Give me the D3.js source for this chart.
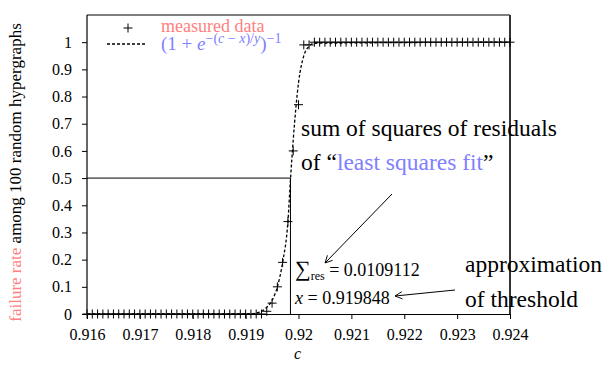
<!DOCTYPE html>
<html>
<head>
<meta charset="utf-8">
<script src="https://cdn.jsdelivr.net/npm/d3@7"></script>
<style>
  body { margin: 0; background: #fff; }
  svg text { font-family: "Liberation Serif", "DejaVu Serif", serif; }
</style>
</head>
<body>
<script>
// Chart size and plot box
const width = 606;
const height = 365;
const margin = { top: 15, right: 96, bottom: 51, left: 87 };
const innerWidth = width - margin.left - margin.right;
const innerHeight = height - margin.top - margin.bottom;

// Measured failure rates (c, rate)
const cValues = [
  0.9160, 0.9161, 0.9162, 0.9163, 0.9164, 0.9165, 0.9166, 0.9167, 0.9168, 0.9169,
  0.9170, 0.9171, 0.9172, 0.9173, 0.9174, 0.9175, 0.9176, 0.9177, 0.9178, 0.9179,
  0.9180, 0.9181, 0.9182, 0.9183, 0.9184, 0.9185, 0.9186, 0.9187, 0.9188, 0.9189,
  0.9190, 0.9191, 0.9192, 0.9193, 0.9194, 0.9195, 0.9196, 0.9197, 0.9198, 0.9199,
  0.9200, 0.9201, 0.9202, 0.9203, 0.9204, 0.9205, 0.9206, 0.9207, 0.9208, 0.9209,
  0.9210, 0.9211, 0.9212, 0.9213, 0.9214, 0.9215, 0.9216, 0.9217, 0.9218, 0.9219,
  0.9220, 0.9221, 0.9222, 0.9223, 0.9224, 0.9225, 0.9226, 0.9227, 0.9228, 0.9229,
  0.9230, 0.9231, 0.9232, 0.9233, 0.9234, 0.9235, 0.9236, 0.9237, 0.9238, 0.9239,
  0.9240
];
const rateValues = [
  0, 0, 0, 0, 0, 0, 0, 0, 0, 0,
  0, 0, 0, 0, 0, 0, 0, 0, 0, 0,
  0, 0, 0, 0, 0, 0, 0, 0, 0, 0,
  0, 0, 0, 0, 0.01, 0.04, 0.10, 0.19, 0.34, 0.60,
  0.77, 0.99, 0.99, 1, 1, 1, 1, 1, 1, 1,
  1, 1, 1, 1, 1, 1, 1, 1, 1, 1,
  1, 1, 1, 1, 1, 1, 1, 1, 1, 1,
  1, 1, 1, 1, 1, 1, 1, 1, 1, 1,
  1
];

// Fitted logistic curve
const fitC = [0.916, 0.9191, 0.9192, 0.9193, 0.9194, 0.9195, 0.9196, 0.9197, 0.9198,
  0.91985, 0.9199, 0.9200, 0.9201, 0.9202, 0.9203, 0.924];
const fitY = [0, 0, 0.004, 0.01, 0.025, 0.05, 0.10, 0.19, 0.34,
  0.5, 0.64, 0.85, 0.95, 0.985, 0.996, 1];

// Threshold estimate
const threshold = 0.919848;
const residual = '0.0109112';

const xTicks = [0.916, 0.917, 0.918, 0.919, 0.92, 0.921, 0.922, 0.923, 0.924];
const yTicks = [0, 0.1, 0.2, 0.3, 0.4, 0.5, 0.6, 0.7, 0.8, 0.9, 1];

const pink = '#ff8080';
const blue = '#8080ff';
const serif = '"Liberation Serif", "DejaVu Serif", serif';

const svg = d3.select('body')
  .append('svg')
  .attr('width', width)
  .attr('height', height)
  .attr('font-family', serif);

const g = svg.append('g')
  .attr('transform', `translate(${margin.left}, ${margin.top})`);

const xScale = d3.scaleLinear()
  .domain([0.916, 0.924])
  .range([0, innerWidth]);

const yScale = d3.scaleLinear()
  .domain([0, 1.1])
  .range([innerHeight, 0]);

// Frame (top and right)
g.append('line')
  .attr('x1', 0).attr('x2', innerWidth)
  .attr('y1', 0).attr('y2', 0)
  .attr('stroke', '#000').attr('stroke-width', 1.2);
g.append('line')
  .attr('x1', innerWidth).attr('x2', innerWidth)
  .attr('y1', 0).attr('y2', innerHeight)
  .attr('stroke', '#333').attr('stroke-width', 2);

// Axes
const xAxis = g.append('g')
  .attr('transform', `translate(0, ${innerHeight})`)
  .call(d3.axisBottom(xScale)
    .tickValues(xTicks)
    .tickSize(5)
    .tickSizeOuter(0)
    .tickFormat(d => String(+d.toFixed(3))));

const yAxis = g.append('g')
  .call(d3.axisLeft(yScale)
    .tickValues(yTicks)
    .tickSize(5)
    .tickSizeOuter(0)
    .tickFormat(d => String(+d.toFixed(1))));

[xAxis, yAxis].forEach(a => {
  a.attr('font-family', serif).attr('font-size', 16);
  a.select('.domain').attr('stroke', '#000').attr('stroke-width', 1.2);
  a.selectAll('.tick line').attr('stroke', '#000');
  a.selectAll('.tick text').attr('fill', '#000');
});
xAxis.selectAll('.tick text').attr('dy', '1.15em');
yAxis.selectAll('.tick text').attr('x', -15);
// y axis line spans to the top of the frame
yAxis.select('.domain').attr('d', `M0,${innerHeight}V0`);

// Threshold guide lines
g.append('line')
  .attr('x1', 0).attr('x2', xScale(threshold))
  .attr('y1', yScale(0.5)).attr('y2', yScale(0.5))
  .attr('stroke', '#000').attr('stroke-width', 1);
g.append('line')
  .attr('x1', xScale(threshold)).attr('x2', xScale(threshold))
  .attr('y1', yScale(0.5)).attr('y2', yScale(0))
  .attr('stroke', '#000').attr('stroke-width', 1);

// Fitted curve
const fitData = fitC.map((c, i) => ({ c: c, v: fitY[i] }));
g.append('path')
  .datum(fitData)
  .attr('fill', 'none')
  .attr('stroke', '#000')
  .attr('stroke-width', 1.3)
  .attr('stroke-dasharray', '3,2')
  .attr('d', d3.line()
    .x(d => xScale(d.c))
    .y(d => yScale(d.v))
    .curve(d3.curveMonotoneX));

// Measured points as plus marks
const measured = cValues.map((c, i) => ({ c: c, v: rateValues[i] }));
g.selectAll('path.pt')
  .data(measured)
  .enter()
  .append('path')
  .attr('class', 'pt')
  .attr('transform', d => `translate(${xScale(d.c)}, ${yScale(d.v)})`)
  .attr('d', 'M-4.5,0H4.5M0,-4.5V4.5')
  .attr('stroke', '#000')
  .attr('stroke-width', 1);

// Legend
const legend = svg.append('g');
legend.append('path')
  .attr('transform', 'translate(128, 28)')
  .attr('d', 'M-4.5,0H4.5M0,-4.5V4.5')
  .attr('stroke', '#000');
legend.append('text')
  .attr('x', 161).attr('y', 32)
  .attr('fill', pink)
  .attr('font-size', 18)
  .text('measured data');
legend.append('line')
  .attr('x1', 107).attr('x2', 147)
  .attr('y1', 44).attr('y2', 44)
  .attr('stroke', '#000').attr('stroke-width', 1.3)
  .attr('stroke-dasharray', '3,2');
const formula = legend.append('text')
  .attr('x', 161).attr('y', 50)
  .attr('fill', blue)
  .attr('font-size', 19);
formula.append('tspan').text('(1 + ');
formula.append('tspan').attr('font-style', 'italic').text('e');
const sup1 = formula.append('tspan').attr('dy', -7).attr('font-size', 14);
sup1.append('tspan').text('−(');
sup1.append('tspan').attr('font-style', 'italic').text('c');
sup1.append('tspan').text(' − ');
sup1.append('tspan').attr('font-style', 'italic').text('x');
sup1.append('tspan').text(')/');
sup1.append('tspan').attr('font-style', 'italic').text('y');
formula.append('tspan').attr('dy', 7).attr('font-size', 19).text(')');
formula.append('tspan').attr('dy', -7).attr('font-size', 14).text('−1');

// Y axis label
const yLabel = svg.append('text')
  .attr('transform', `translate(21, ${margin.top + innerHeight / 2 + 8}) rotate(-90)`)
  .attr('text-anchor', 'middle')
  .attr('font-size', 17);
yLabel.append('tspan').attr('fill', pink).text('failure rate');
yLabel.append('tspan').attr('fill', '#000').text(' among 100 random hypergraphs');

// X axis label
svg.append('text')
  .attr('x', margin.left + xScale(0.92) - 1)
  .attr('y', 359)
  .attr('text-anchor', 'middle')
  .attr('font-size', 16)
  .attr('font-style', 'italic')
  .text('c');

// Annotations
svg.append('text')
  .attr('x', 301).attr('y', 136)
  .attr('font-size', 23.5)
  .text('sum of squares of residuals');
const fitNote = svg.append('text')
  .attr('x', 301).attr('y', 170)
  .attr('font-size', 23.5);
fitNote.append('tspan').text('of “');
fitNote.append('tspan').attr('fill', blue).text('least squares fit');
fitNote.append('tspan').text('”');

const resText = svg.append('text')
  .attr('x', 295).attr('y', 276)
  .attr('font-size', 18);
resText.append('tspan').attr('font-size', 22).text('∑');
resText.append('tspan').attr('dy', 4).attr('font-size', 12).text('res');
resText.append('tspan').attr('dy', -4).text(' = ' + residual);

const xText = svg.append('text')
  .attr('x', 295).attr('y', 304)
  .attr('font-size', 18);
xText.append('tspan').attr('font-style', 'italic').text('x');
xText.append('tspan').text(' = ' + threshold);

svg.append('text')
  .attr('x', 465).attr('y', 272)
  .attr('font-size', 23.5)
  .text('approximation');
svg.append('text')
  .attr('x', 465).attr('y', 307)
  .attr('font-size', 23.5)
  .text('of threshold');

// Arrows
svg.append('defs').append('marker')
  .attr('id', 'arrow')
  .attr('viewBox', '0 0 10 10')
  .attr('refX', 9).attr('refY', 5)
  .attr('markerWidth', 9).attr('markerHeight', 9)
  .attr('orient', 'auto')
  .append('path')
  .attr('d', 'M1,1L9,5L1,9')
  .attr('fill', 'none')
  .attr('stroke', '#000')
  .attr('stroke-width', 1);

svg.append('line')
  .attr('x1', 392).attr('y1', 194)
  .attr('x2', 325).attr('y2', 263)
  .attr('stroke', '#000').attr('stroke-width', 1)
  .attr('marker-end', 'url(#arrow)');
svg.append('line')
  .attr('x1', 455).attr('y1', 290)
  .attr('x2', 395).attr('y2', 296)
  .attr('stroke', '#000').attr('stroke-width', 1)
  .attr('marker-end', 'url(#arrow)');
</script>
</body>
</html>
